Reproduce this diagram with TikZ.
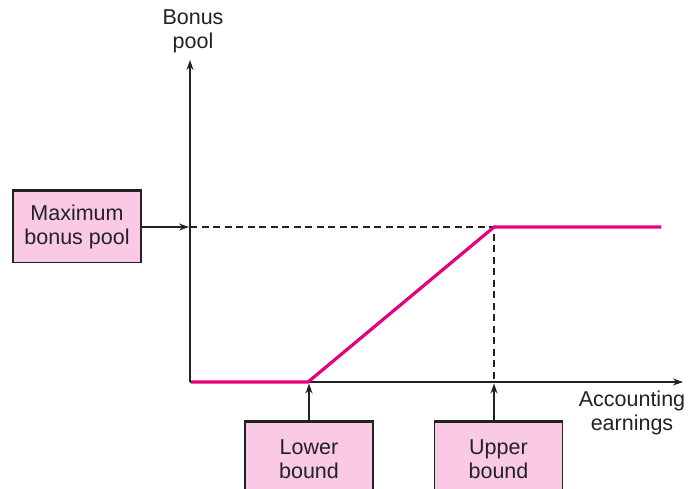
\documentclass[tikz,border=0pt]{standalone}
\usepackage{fontspec}
\setmainfont{Liberation Sans}
\usetikzlibrary{arrows.meta}
\definecolor{boxfill}{HTML}{F9C9E6}
\definecolor{curve}{HTML}{E6007E}
\definecolor{ink}{HTML}{222222}
\begin{document}
\begin{tikzpicture}[x=1pt,y=-1pt,
  axis/.style={draw=ink,line width=1.5pt,-{Stealth[length=10pt,width=7pt]}},
  pointer/.style={draw=ink,line width=1.5pt,-{Stealth[length=10pt,width=7pt]}},
  guide/.style={draw=ink,line width=1.4pt,dash pattern=on 7pt off 4.5pt},
  payout/.style={draw=curve,line width=3.2pt,line join=miter},
  caption/.style={font=\fontsize{21.5}{24}\selectfont,align=center,text=ink,inner sep=0pt},
  infobox/.style={draw=ink,line width=1.5pt,fill=boxfill,minimum width=128pt,
    minimum height=71pt,align=center,font=\fontsize{21.5}{24}\selectfont,text=ink},
  boxtop/.style={draw=ink,line width=2.8pt}
]
\useasboundingbox (0,0) rectangle (688,489);
\clip (0,0) rectangle (688,489);

% axes and key points
\coordinate (O) at (190,382);
\coordinate (ytop) at (190,60);
\coordinate (xend) at (683,382);
\coordinate (start) at (191,382);
\coordinate (lo) at (308,382);
\coordinate (hi) at (494,382);
\coordinate (cap) at (494,227);
\coordinate (capL) at (190,227);
\coordinate (far) at (661,227);

% labelled boxes
\node[infobox] (maxbox) at (77,227) {Maximum\\bonus pool};
\node[infobox,minimum height=75pt] (lowbox) at (309,459.5) {Lower\\bound};
\node[infobox,minimum height=75pt] (upbox) at (498.5,459.5) {Upper\\bound};
\draw[boxtop] (maxbox.north west) -- (maxbox.north east);
\draw[boxtop] (lowbox.north west) -- (lowbox.north east);
\draw[boxtop] (upbox.north west) -- (upbox.north east);

% axis titles
\node[caption] (ylab) at (193,31) {Bonus\\pool};
\node[caption] (xlab) at (632,413) {Accounting\\earnings};

% guide lines
\draw[guide] (capL) -- (cap) -- (hi);

% axes
\draw[axis] (O) -- (ytop);
\draw[axis] (O) -- (xend);

% bonus pool schedule
\draw[payout] (start) -- (lo) -- (cap) -- (far);

% pointers from boxes to the axes
\draw[pointer,shorten >=1pt] (maxbox.east) -- (capL);
\draw[pointer,shorten >=1.5pt] (lowbox.north) -- (lowbox.north |- lo);
\draw[pointer,shorten >=1.5pt] (upbox.north -| hi) -- (hi);
\end{tikzpicture}
\end{document}
